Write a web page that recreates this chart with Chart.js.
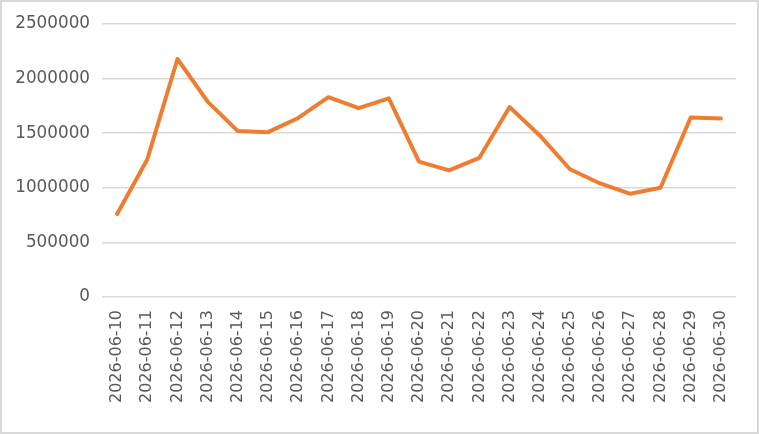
<!DOCTYPE html>
<html>
<head>
<meta charset="utf-8">
<script src="https://cdn.jsdelivr.net/npm/chart.js@4/dist/chart.umd.min.js"></script>
<style>
  html, body { margin: 0; padding: 0; background: #fff; }
  #wrap {
    width: 759px; height: 434px; box-sizing: border-box;
    border: 2px solid #d9d9d9; position: relative;
  }
</style>
</head>
<body>
<div id="wrap"><canvas id="chart"></canvas></div>
<script>
const dates = [
  '2026-06-10', '2026-06-11', '2026-06-12', '2026-06-13', '2026-06-14',
  '2026-06-15', '2026-06-16', '2026-06-17', '2026-06-18', '2026-06-19',
  '2026-06-20', '2026-06-21', '2026-06-22', '2026-06-23', '2026-06-24',
  '2026-06-25', '2026-06-26', '2026-06-27', '2026-06-28', '2026-06-29',
  '2026-06-30'
];
const values = [
  760000, 1260000, 2180000, 1790000, 1520000,
  1510000, 1640000, 1830000, 1730000, 1820000,
  1240000, 1160000, 1275000, 1740000, 1480000,
  1170000, 1040000, 945000, 1000000, 1645000,
  1635000
];
const yMax = 2500000;
const yStep = 500000;

new Chart(document.getElementById('chart'), {
  type: 'line',
  data: {
    labels: dates,
    datasets: [{
      data: values,
      borderColor: '#ed7d31',
      borderWidth: 4,
      pointRadius: 0,
      tension: 0,
      fill: false,
      borderCapStyle: 'round',
      borderJoinStyle: 'round'
    }]
  },
  options: {
    responsive: true,
    maintainAspectRatio: false,
    animation: false,
    layout: { padding: { left: 14, right: 21, top: 13, bottom: 23 } },
    plugins: {
      legend: { display: false },
      tooltip: { enabled: false }
    },
    scales: {
      x: {
        offset: true,
        grid: { display: false, drawTicks: false },
        border: { display: false },
        // fixed axis heights/widths so the plot box lands where the original has it
        afterFit(scale) { scale.height = 112; scale.paddingLeft = 0; scale.paddingRight = 0; },
        ticks: {
          color: '#595959',
          font: { family: '"DejaVu Sans", sans-serif', size: 16 },
          minRotation: 90,
          maxRotation: 90,
          autoSkip: false,
          padding: 13
        }
      },
      y: {
        min: 0,
        max: yMax,
        border: { display: false },
        grid: { color: '#d9d9d9', lineWidth: 1.5, drawTicks: false },
        afterFit(scale) { scale.width = 86; },
        ticks: {
          stepSize: yStep,
          color: '#595959',
          font: { family: '"DejaVu Sans", sans-serif', size: 16.8 },
          padding: 12,
          callback: v => String(v)
        }
      }
    }
  }
});
</script>
</body>
</html>
